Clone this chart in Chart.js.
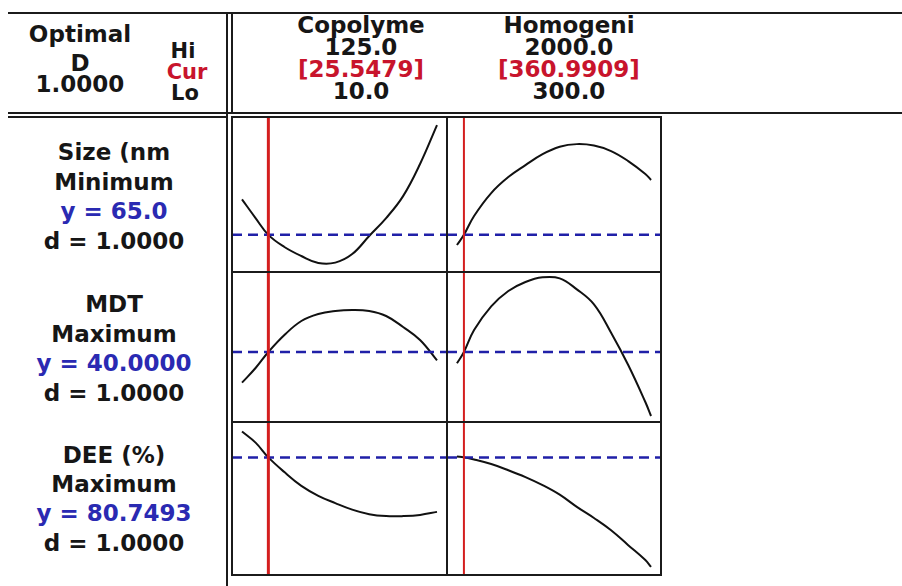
<!DOCTYPE html>
<html>
<head>
<meta charset="utf-8">
<script src="https://cdn.jsdelivr.net/npm/chart.js@4.4.1/dist/chart.umd.min.js"></script>
<style>
  html, body { margin: 0; padding: 0; background: #fff; }
  #sheet { position: relative; width: 902px; height: 586px; overflow: hidden; background: #fff;
           font-family: "DejaVu Sans", "Liberation Sans", sans-serif; font-weight: bold; }
  .rule { position: absolute; background: #1b1b1b; z-index: 3; }
  .lbl { position: absolute; white-space: nowrap; line-height: 1; transform: translateX(-50%); z-index: 4; }
  canvas { position: absolute; z-index: 1; }
</style>
</head>
<body>
<div id="sheet"></div>
<script>
// ---- optimizer settings ----
const optimalD = 1.0;
const factorNames = ['Copolyme', 'Homogeni'];
const factorHi = [125.0, 2000.0];
const factorLo = [10.0, 300.0];
const factorCur = [25.5479, 360.9909];

const responseNames = ['Size (nm', 'MDT', 'DEE (%)'];
const responseGoals = ['Minimum', 'Maximum', 'Maximum'];
const responseY = [65.0, 40.0, 80.7493];
const responseYDecimals = [1, 4, 4];
const responseD = [1.0, 1.0, 1.0];

// ---- predicted response traces along each factor ----
const copolymeX = [10, 18, 25.5479, 35, 45, 55, 65, 75, 85, 95, 105, 115, 125];
const homogeniX = [300, 360.9909, 450, 600, 750, 900, 1050, 1200, 1350, 1500, 1650, 1800, 1950, 2000];

const sizeByCopolyme = [87.0, 75.4, 65.0, 57.5, 51.9, 47.6, 47.8, 53.1, 64.3, 75.4, 89.0, 108.9, 133.0];
const sizeByHomogeni = [58.7, 65.0, 76.7, 90.9, 100.8, 108.2, 115.0, 119.6, 121.2, 120.3, 116.9, 110.7, 102.7, 99.0];

const mdtByCopolyme = [30.8, 35.2, 40.0, 45.1, 49.3, 51.4, 52.3, 52.6, 52.3, 50.8, 47.5, 43.6, 37.5];
const mdtByHomogeni = [36.6, 40.0, 46.6, 53.7, 58.3, 61.0, 62.4, 62.1, 58.8, 54.3, 45.8, 36.1, 25.0, 20.8];

const deeByCopolyme = [87.5, 84.6, 80.7493, 76.9, 73.3, 70.7, 68.8, 67.1, 65.9, 65.4, 65.4, 65.7, 66.5];
const deeByHomogeni = [80.95, 80.7493, 80.2, 79.0, 77.4, 75.6, 73.5, 71.0, 67.8, 64.9, 61.7, 57.8, 53.9, 52.1];

const factorX = [copolymeX, homogeniX];
const traces = [
  [sizeByCopolyme, sizeByHomogeni],
  [mdtByCopolyme, mdtByHomogeni],
  [deeByCopolyme, deeByHomogeni]
];

// ---- layout ----
const sheet = document.getElementById('sheet');
const colEdges = [232, 447, 661];
const rowLayout = [
  { top: 117, h: 155, yMin: 42, yMax: 138 },
  { top: 272, h: 150, yMin: 19, yMax: 64 },
  { top: 422, h: 153, yMin: 50, yMax: 90 }
];
const xPadFrac = 10 / 195;

const INK = '#161616', RED = '#c8142c', BLUE = '#2a2ab2';

function rule(x, y, w, h) {
  const d = document.createElement('div');
  d.className = 'rule';
  d.style.left = x + 'px'; d.style.top = y + 'px';
  d.style.width = w + 'px'; d.style.height = h + 'px';
  sheet.appendChild(d);
}

function label(text, cx, baseline, color, size) {
  size = size || 23;
  const d = document.createElement('div');
  d.className = 'lbl';
  d.textContent = text;
  d.style.left = cx + 'px';
  d.style.top = (baseline - 0.846 * size) + 'px';
  d.style.fontSize = size + 'px';
  d.style.color = color || INK;
  sheet.appendChild(d);
}

// frame rules
rule(8, 12, 894, 2);          // top
rule(8, 112, 894, 2);         // header bottom
rule(8, 116, 219, 2);         // header bottom (second rule, left block)
rule(226, 12, 2, 574);        // left divider
rule(231, 12, 2, 102);        // header divider
// panel grid
rule(231, 116, 431, 2);
rule(231, 574, 431, 2);
rule(231, 116, 2, 460);
rule(660, 116, 2, 460);
rule(446, 116, 2, 460);
rule(231, 271, 431, 2);
rule(231, 421, 431, 2);

// header text
label('Optimal', 80, 42);
label('D', 80, 71);
label(optimalD.toFixed(4), 80, 92);
label('Hi', 183, 59, INK, 21);
label('Cur', 187, 80, RED, 21);
label('Lo', 185, 101, INK, 21);

const headCx = [361, 569];
factorNames.forEach((name, i) => {
  label(name, headCx[i], 33);
  label(factorHi[i].toFixed(1), headCx[i], 55);
  label('[' + factorCur[i].toFixed(4) + ']', headCx[i], 77, RED);
  label(factorLo[i].toFixed(1), headCx[i], 99);
});

// response labels
const respBase = [[160, 190, 219, 249], [312, 342, 371, 401], [463, 492, 521, 551]];
responseNames.forEach((name, r) => {
  const b = respBase[r];
  label(name, 114, b[0]);
  label(responseGoals[r], 114, b[1]);
  label('y = ' + responseY[r].toFixed(responseYDecimals[r]), 114, b[2], BLUE);
  label('d = ' + responseD[r].toFixed(4), 114, b[3]);
});

// panels
rowLayout.forEach((row, r) => {
  for (let c = 0; c < 2; c++) {
    const left = colEdges[c], w = colEdges[c + 1] - colEdges[c];
    const span = factorHi[c] - factorLo[c];
    const xMin = factorLo[c] - span * xPadFrac, xMax = factorHi[c] + span * xPadFrac;
    const cv = document.createElement('canvas');
    cv.width = w; cv.height = row.h;
    cv.style.left = left + 'px'; cv.style.top = row.top + 'px';
    cv.style.width = w + 'px'; cv.style.height = row.h + 'px';
    sheet.appendChild(cv);

    const curve = factorX[c].map((x, i) => ({ x: x, y: traces[r][c][i] }));
    new Chart(cv.getContext('2d'), {
      type: 'scatter',
      data: {
        datasets: [
          { data: [{ x: factorCur[c], y: row.yMin }, { x: factorCur[c], y: row.yMax }],
            showLine: true, borderColor: '#d41e1e', borderWidth: c === 0 ? 3 : 2, pointRadius: 0 },
          { data: [{ x: xMin, y: responseY[r] }, { x: xMax, y: responseY[r] }],
            showLine: true, borderColor: '#2020a8', borderWidth: 2.5, borderDash: [10, 6], pointRadius: 0 },
          { data: curve, showLine: true, borderColor: '#111', borderWidth: 2, pointRadius: 0,
            tension: 0.4 }
        ]
      },
      options: {
        responsive: false, animation: false, devicePixelRatio: 1,
        layout: { padding: 0 },
        plugins: { legend: { display: false }, tooltip: { enabled: false } },
        scales: {
          x: { type: 'linear', display: false, min: xMin, max: xMax },
          y: { type: 'linear', display: false, min: row.yMin, max: row.yMax }
        }
      }
    });
  }
});
</script>
</body>
</html>
